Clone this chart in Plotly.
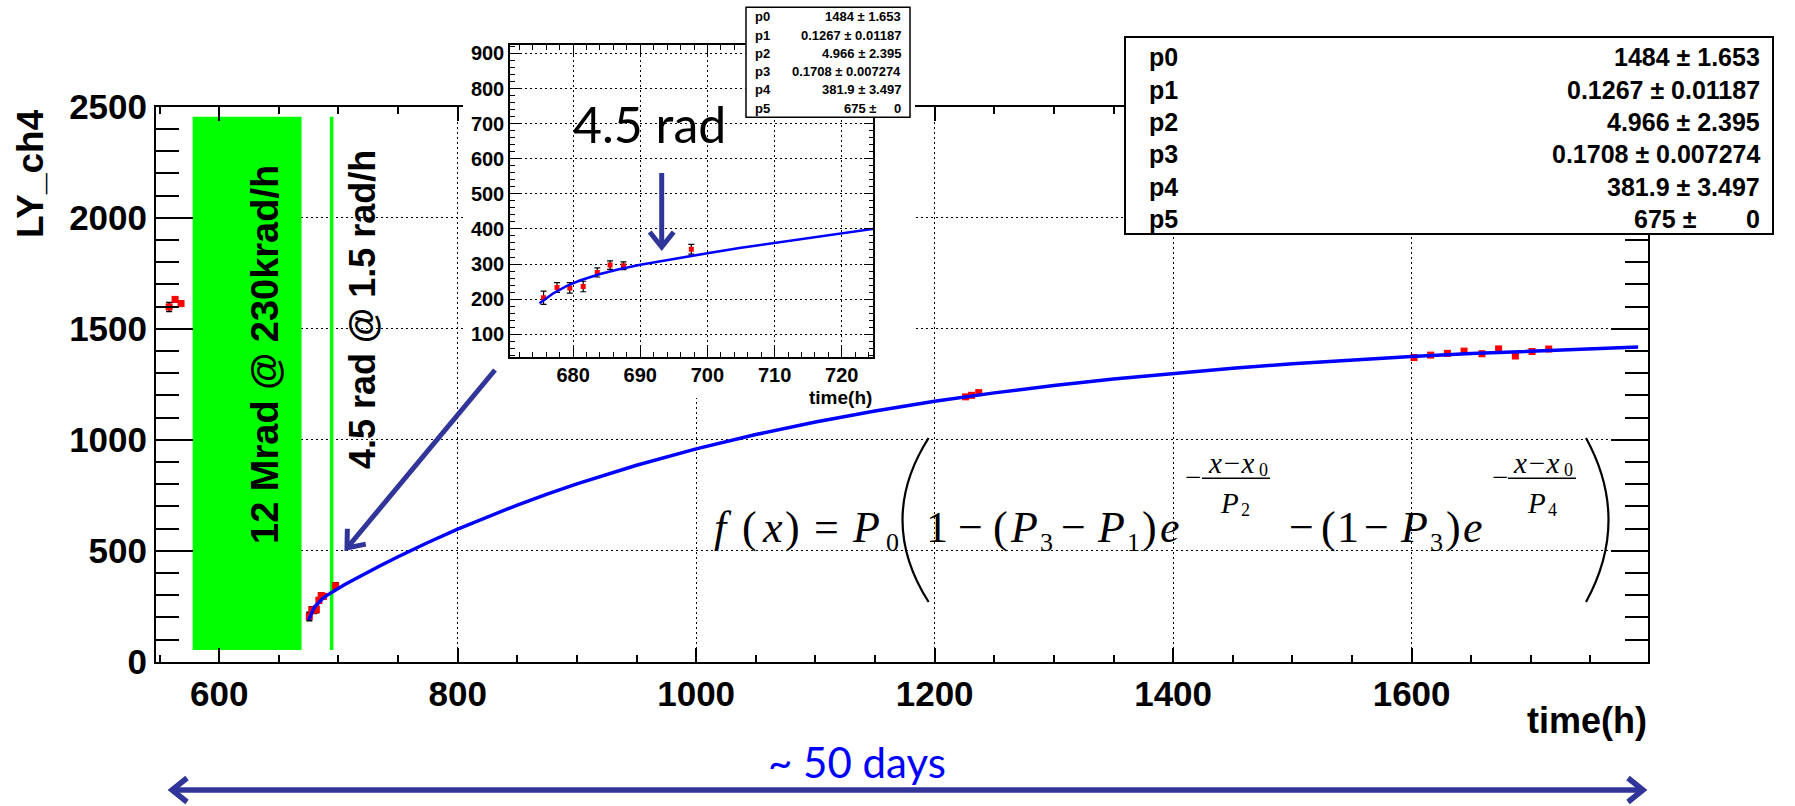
import math
import plotly.graph_objects as go

W, H = 1795, 806

# ---------------- data ----------------
t_data = [558, 563, 568, 675.6, 677.6, 679.5, 681.5, 683.6, 685.5, 687.5, 697.6,
          1226, 1231, 1237, 1602, 1616, 1630, 1644, 1659, 1673, 1687, 1701, 1715]
ly_data = [1598, 1632, 1613, 204, 233, 232, 236, 276, 297, 295, 342,
           1193, 1200, 1212, 1370, 1381, 1389, 1399, 1387, 1409, 1377, 1397, 1408]
ly_err = [20, 12, 12, 19, 14, 15, 15, 13, 12, 11, 14,
          10, 10, 10, 10, 10, 10, 10, 10, 10, 10, 10, 10]

fit_t = [675, 677, 679, 681, 684, 687, 690, 695, 700, 705, 710, 715, 720, 725, 730, 735,
         750, 760, 775, 800, 825, 850, 875, 900, 950, 1000, 1050, 1100, 1150, 1200, 1250,
         1300, 1350, 1400, 1450, 1500, 1550, 1600, 1650, 1700, 1750, 1790]
fit_ly = [188.0, 216.1, 237.0, 253.1, 271.5, 285.7, 297.7, 315.1, 331.0, 346.3, 361.2, 375.8,
          390.2, 404.5, 418.5, 432.4, 472.9, 499.0, 536.9, 596.9, 653.2, 705.8, 755.1, 801.3,
          885.1, 958.6, 1023.1, 1079.6, 1129.2, 1172.8, 1210.9, 1244.5, 1273.9, 1299.7, 1322.3,
          1342.1, 1359.5, 1374.8, 1388.2, 1400.0, 1410.3, 1417.6]

par_names = ["p0", "p1", "p2", "p3", "p4", "p5"]
par_vals = ["1484 \u00b1 1.653", "0.1267 \u00b1 0.01187", "4.966 \u00b1 2.395",
            "0.1708 \u00b1 0.007274", "381.9 \u00b1 3.497", "675 \u00b1"]
p5_err = "0"

x_main_range = [547, 1798]
y_main_range = [0, 2500]
x_ins_range = [670.6, 724.7]
y_ins_range = [36, 924]

irr_box = [577.7, 669.1, 53, 2455]   # green irradiation band (h, LY)
low_dose_t = 694.3                   # green line

# ---------------- helpers ----------------
def px(x):
    return x / W

def py(y):
    return 1 - y / H

SANS = "Liberation Sans"
SERIF = "Liberation Serif"
CAL = "Lato"
ARROWC = "#31359A"

annotations = []
shapes = []

def txt(text, x, y, size, family=SANS, color="black", weight="bold", style="normal",
        xanchor="center", yanchor="middle", angle=0):
    annotations.append(dict(text=text, x=px(x), y=py(y), xref="paper", yref="paper",
                            showarrow=False, xanchor=xanchor, yanchor=yanchor, textangle=angle,
                            font=dict(family=family, size=size, color=color, weight=weight, style=style),
                            borderpad=0))

def pline(x0, y0, x1, y1, width=1.5, color="black"):
    shapes.append(dict(type="line", xref="paper", yref="paper", x0=px(x0), y0=py(y0),
                       x1=px(x1), y1=py(y1), line=dict(color=color, width=width), layer="above"))

def ppath(pts, width, color="black"):
    path = "M " + " L ".join("{:.5f},{:.5f}".format(px(a), py(b)) for a, b in pts)
    shapes.append(dict(type="path", xref="paper", yref="paper", path=path,
                       line=dict(color=color, width=width), layer="above"))

def chevron(xh, yh, xt, yt, width, color=ARROWC, L=15, Wd=12):
    dx, dy = xh - xt, yh - yt
    n = math.hypot(dx, dy)
    ux, uy = dx / n, dy / n
    nx, ny = -uy, ux
    bx, by = xh - L * ux, yh - L * uy
    ppath([(bx + Wd * nx, by + Wd * ny), (xh, yh), (bx - Wd * nx, by - Wd * ny)], width, color)

def arrow(xh, yh, xt, yt, width, color=ARROWC):
    pline(xt, yt, xh, yh, width=width, color=color)
    chevron(xh, yh, xt, yt, width, color)

def prect(x0, y0, x1, y1, width=2):
    shapes.append(dict(type="rect", xref="paper", yref="paper", x0=px(x0), y0=py(y0),
                       x1=px(x1), y1=py(y1), fillcolor="white",
                       line=dict(color="black", width=width), layer="above"))

def paren(xe, xm, ytop, ybot, width=2.2):
    cx = 2 * xm - xe
    ym = (ytop + ybot) / 2
    path = "M {:.5f},{:.5f} Q {:.5f},{:.5f} {:.5f},{:.5f}".format(
        px(xe), py(ytop), px(cx), py(ym), px(xe), py(ybot))
    shapes.append(dict(type="path", xref="paper", yref="paper", path=path,
                       line=dict(color="black", width=width), layer="above"))

# ---------------- figure ----------------
fig = go.Figure()

# main graph
fig.add_trace(go.Scatter(x=t_data, y=ly_data, mode="markers",
                         marker=dict(symbol="square", size=7, color="#FF0000"),
                         error_y=dict(type="data", array=ly_err, color="black", thickness=1.5, width=3),
                         xaxis="x", yaxis="y", showlegend=False, hoverinfo="skip"))
fig.add_trace(go.Scatter(x=fit_t, y=fit_ly, mode="lines", line=dict(color="#0000FF", width=3.5),
                         xaxis="x", yaxis="y", showlegend=False, hoverinfo="skip"))

# blank pad behind the inset
fig.add_trace(go.Scatter(x=[0.5], y=[0.5], mode="markers", marker=dict(opacity=0),
                         xaxis="x2", yaxis="y2", showlegend=False, hoverinfo="skip"))

# inset graph
fig.add_trace(go.Scatter(x=t_data, y=ly_data, mode="markers",
                         marker=dict(symbol="square", size=5, color="#FF0000"),
                         error_y=dict(type="data", array=ly_err, color="black", thickness=1.2, width=3),
                         xaxis="x3", yaxis="y3", showlegend=False, hoverinfo="skip"))
fig.add_trace(go.Scatter(x=fit_t, y=fit_ly, mode="lines", line=dict(color="#0000FF", width=2.5),
                         xaxis="x3", yaxis="y3", showlegend=False, hoverinfo="skip"))

tickfont_main = dict(family=SANS, size=35, color="black", weight="bold")
tickfont_ins = dict(family=SANS, size=20, color="black", weight="bold")

common = dict(showline=True, linecolor="black", zeroline=False, ticks="inside",
              tickcolor="black", showgrid=True, gridcolor="black", griddash="2px,3px",
              gridwidth=1, mirror="ticks", fixedrange=True, automargin=False)

fig.update_layout(
    width=W, height=H,
    autosize=False,
    margin=dict(l=0, r=0, t=0, b=0, pad=0),
    paper_bgcolor="white", plot_bgcolor="white",
    showlegend=False,
    xaxis=dict(domain=[px(156), px(1647.7)], range=x_main_range, anchor="y",
               tickmode="linear", tick0=0, dtick=200, ticklen=14, tickwidth=1.5, linewidth=2,
               tickfont=tickfont_main,
               minor=dict(dtick=50, tick0=0, ticklen=7, ticks="inside", tickcolor="black",
                          tickwidth=1.5, showgrid=False),
               **common),
    yaxis=dict(domain=[py(661.7), py(106.7)], range=y_main_range, anchor="x",
               tickmode="linear", tick0=0, dtick=500, ticklen=37, tickwidth=1.5, linewidth=2,
               tickfont=tickfont_main,
               minor=dict(dtick=100, tick0=0, ticklen=23, ticks="inside", tickcolor="black",
                          tickwidth=1.5, showgrid=False),
               **common),
    xaxis2=dict(domain=[px(463), px(915)], range=[0, 1], anchor="y2", visible=False,
                fixedrange=True, automargin=False),
    yaxis2=dict(domain=[py(398), 1.0], range=[0, 1], anchor="x2", visible=False,
                fixedrange=True, automargin=False),
    xaxis3=dict(domain=[px(510), px(873.3)], range=x_ins_range, anchor="y3",
                tickmode="linear", tick0=0, dtick=10, ticklen=10, tickwidth=1, linewidth=1.5,
                tickfont=tickfont_ins,
                minor=dict(dtick=2, tick0=0, ticklen=5, ticks="inside", tickcolor="black",
                           tickwidth=1, showgrid=False),
                **common),
    yaxis3=dict(domain=[py(356.7), py(45)], range=y_ins_range, anchor="x3",
                tickmode="linear", tick0=0, dtick=100, ticklen=10, tickwidth=1, linewidth=1.5,
                tickfont=tickfont_ins,
                minor=dict(dtick=20, tick0=0, ticklen=5, ticks="inside", tickcolor="black",
                           tickwidth=1, showgrid=False),
                **common),
)

# green irradiation band and low-dose line
shapes.append(dict(type="rect", xref="x", yref="y", x0=irr_box[0], x1=irr_box[1],
                   y0=irr_box[2], y1=irr_box[3], fillcolor="#00FF00", line=dict(width=0),
                   layer="between"))
shapes.append(dict(type="line", xref="x", yref="y", x0=low_dose_t, x1=low_dose_t,
                   y0=irr_box[2], y1=irr_box[3], line=dict(color="#00FF00", width=3.5),
                   layer="between"))

# axis titles
txt("LY_ch4", 30, 174, 37, angle=-90)
txt("time(h)", 1648, 720, 36, xanchor="right")
txt("time(h)", 873.3, 397, 19, xanchor="right")

# rotated band labels
txt("12 Mrad @ 230krad/h", 265, 355, 38, angle=-90)
txt("4.5 rad @ 1.5 rad/h", 362, 310, 36, angle=-90)

# main stats box
prect(1125, 37, 1773, 234, width=2)
rows_main = [57, 89.5, 122, 154, 186.5, 219]
for name, val, yy in zip(par_names, par_vals, rows_main):
    txt(name, 1148, yy, 25, xanchor="left")
    if name == "p5":
        txt(val, 1698, yy, 25, xanchor="right")
        txt(p5_err, 1760.6, yy, 25, xanchor="right")
    else:
        txt(val, 1760.6, yy, 25, xanchor="right")

# inset stats box
prect(746, 7.3, 910, 117.3, width=1.5)
rows_ins = [16.7, 35, 53.3, 71.7, 89.3, 108.3]
for name, val, yy in zip(par_names, par_vals, rows_ins):
    txt(name, 754, yy, 13, xanchor="left")
    if name == "p5":
        txt(val, 876.7, yy, 13, xanchor="right")
        txt(p5_err, 901.7, yy, 13, xanchor="right")
    else:
        txt(val, 901.7, yy, 13, xanchor="right")

# inset label + arrow
txt("4.5 rad", 649, 124, 50, family=CAL, weight="normal")
arrow(661.7, 247, 661.7, 173, 5)

# diagonal arrow to low-dose point
arrow(347, 548, 495, 370, 5)

# ~50 days double arrow
txt("~ 50 days", 857, 762, 42, family=CAL, color="#0000FF", weight="normal")
pline(172, 790, 1643, 790, width=5.5, color=ARROWC)
chevron(172, 790, 900, 790, 5.5)
chevron(1643, 790, 900, 790, 5.5)

# formula  f(x) = P0 ( 1 - (P3 - P1) e^{-(x-x0)/P2} - (1 - P3) e^{-(x-x0)/P4} )
MS, SS, ES, ESS = 44, 26, 29, 18
yb = 527     # main row centre
ys = 542     # subscript centre
main_glyphs = [("f", 723), ("(", 749.6), ("x", 772), (")", 792), ("=", 826), ("P", 866),
               ("1", 937), ("\u2212", 971), ("(", 1000), ("P", 1024), ("\u2212", 1073),
               ("P", 1111), (")", 1149), ("e", 1170), ("\u2212", 1301), ("(", 1328),
               ("1", 1348), ("\u2212", 1376), ("P", 1414), (")", 1453), ("e", 1473)]
upright = {"(", ")", "=", "\u2212", "1"}
for g, xx in main_glyphs:
    txt(g, xx, yb, MS, family=SERIF, weight="normal",
        style="normal" if g in upright else "italic")
for g, xx in [("0", 892), ("3", 1046), ("1", 1133), ("3", 1436)]:
    txt(g, xx, ys, SS, family=SERIF, weight="normal")

# exponents  -(x - x0)/P2  and  -(x - x0)/P4
for xm, xnum, xsub0, xl0, xl1, xden, xdsub, dsub in [
        (1193, 1231, 1263, 1202, 1270, 1229, 1245, "2"),
        (1500, 1536, 1568, 1508, 1576, 1536, 1552, "4")]:
    txt("\u2212", xm, 477, ES, family=SERIF, weight="normal")
    txt("x\u2212x", xnum, 463, ES, family=SERIF, weight="normal", style="italic")
    txt("0", xsub0, 470, ESS, family=SERIF, weight="normal")
    pline(xl0, 478.3, xl1, 478.3, width=1.5)
    txt("P", xden, 503, ES, family=SERIF, weight="normal", style="italic")
    txt(dsub, xdsub, 510, ESS, family=SERIF, weight="normal")

# big brackets
paren(928.6, 902.5, 438, 602)
paren(1586, 1608.5, 438, 602)

fig.update_layout(annotations=annotations, shapes=shapes)

# pin the chart to the page's top-left corner (no body margin offsets)
pin = ("var gd=document.getElementById('{plot_id}');"
       "document.documentElement.style.margin='0';document.documentElement.style.padding='0';"
       "document.documentElement.style.overflow='hidden';"
       "document.body.style.margin='0';document.body.style.padding='0';"
       "document.body.style.overflow='hidden';"
       "gd.style.position='fixed';gd.style.left='0px';gd.style.top='0px';")

fig.write_html("out.html", config={"displayModeBar": False}, post_script=pin)
